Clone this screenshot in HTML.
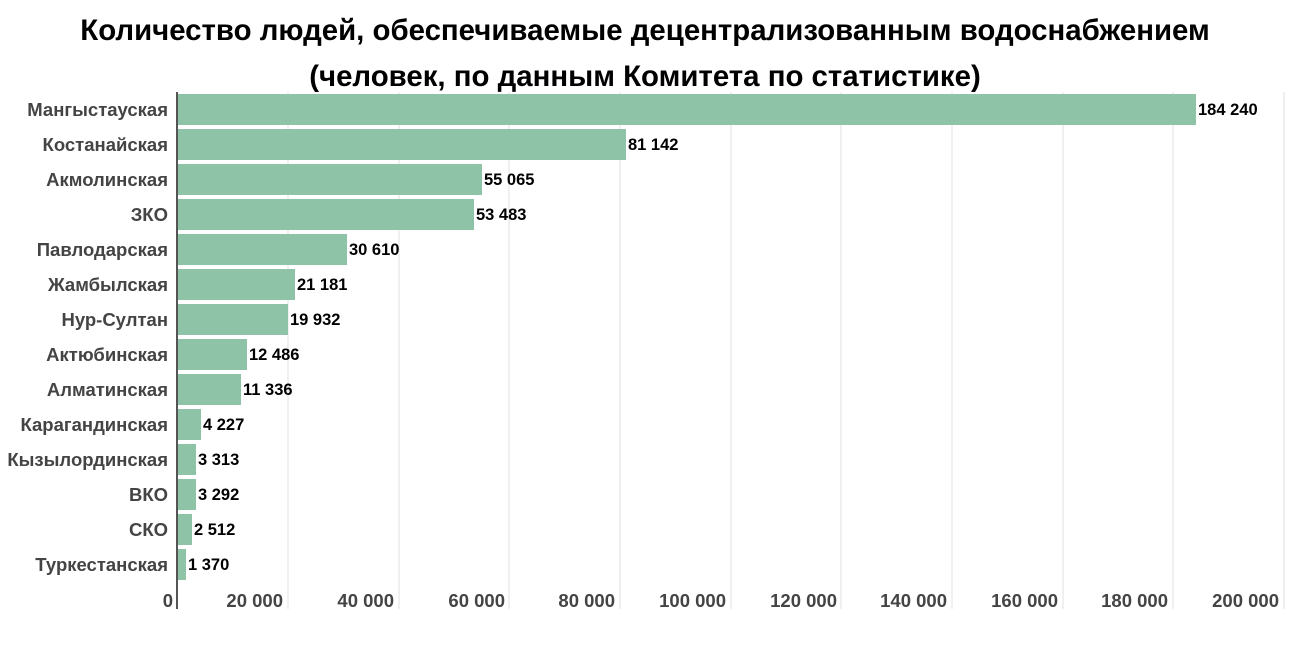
<!DOCTYPE html>
<html><head><meta charset="utf-8"><style>
body{margin:0;background:#fff;width:1290px;height:640px;overflow:hidden;font-family:"Liberation Sans",sans-serif;}
</style></head><body>
<svg width="1290" height="640" xmlns="http://www.w3.org/2000/svg" font-family="Liberation Sans, sans-serif">
<text x="645" y="40" text-anchor="middle" font-size="29.4" font-weight="bold" fill="#000">Количество людей, обеспечиваемые децентрализованным водоснабжением</text>
<text x="645" y="86" text-anchor="middle" font-size="29.4" font-weight="bold" fill="#000">(человек, по данным Комитета по статистике)</text>
<g stroke="#e0e0e0" stroke-width="1">
<line x1="288" y1="92" x2="288" y2="609"/><line x1="399" y1="92" x2="399" y2="609"/><line x1="509" y1="92" x2="509" y2="609"/><line x1="620" y1="92" x2="620" y2="609"/><line x1="731" y1="92" x2="731" y2="609"/><line x1="841" y1="92" x2="841" y2="609"/><line x1="952" y1="92" x2="952" y2="609"/><line x1="1063" y1="92" x2="1063" y2="609"/><line x1="1173" y1="92" x2="1173" y2="609"/><line x1="1284" y1="92" x2="1284" y2="609"/>
</g>
<g fill="#8fc3a7">
<rect x="178" y="94" width="1018" height="31"/>
<rect x="178" y="129" width="448" height="31"/>
<rect x="178" y="164" width="304" height="31"/>
<rect x="178" y="199" width="296" height="31"/>
<rect x="178" y="234" width="169" height="31"/>
<rect x="178" y="269" width="117" height="31"/>
<rect x="178" y="304" width="110" height="31"/>
<rect x="178" y="339" width="69" height="31"/>
<rect x="178" y="374" width="63" height="31"/>
<rect x="178" y="409" width="23" height="31"/>
<rect x="178" y="444" width="18" height="31"/>
<rect x="178" y="479" width="18" height="31"/>
<rect x="178" y="514" width="14" height="31"/>
<rect x="178" y="549" width="8" height="31"/>
</g>
<line x1="177" y1="92" x2="177" y2="609" stroke="#555" stroke-width="2"/>
<g font-size="18.5" font-weight="bold" fill="#444" text-anchor="end">
<text x="168" y="116">Мангыстауская</text>
<text x="168" y="151">Костанайская</text>
<text x="168" y="186">Акмолинская</text>
<text x="168" y="221">ЗКО</text>
<text x="168" y="256">Павлодарская</text>
<text x="168" y="291">Жамбылская</text>
<text x="168" y="326">Нур-Султан</text>
<text x="168" y="361">Актюбинская</text>
<text x="168" y="396">Алматинская</text>
<text x="168" y="431">Карагандинская</text>
<text x="168" y="466">Кызылординская</text>
<text x="168" y="501">ВКО</text>
<text x="168" y="536">СКО</text>
<text x="168" y="571">Туркестанская</text>
</g>
<g font-size="16.5" font-weight="bold" fill="#000">
<text x="1198" y="115">184 240</text>
<text x="628" y="150">81 142</text>
<text x="484" y="185">55 065</text>
<text x="476" y="220">53 483</text>
<text x="349" y="255">30 610</text>
<text x="297" y="290">21 181</text>
<text x="290" y="325">19 932</text>
<text x="249" y="360">12 486</text>
<text x="243" y="395">11 336</text>
<text x="203" y="430">4 227</text>
<text x="198" y="465">3 313</text>
<text x="198" y="500">3 292</text>
<text x="194" y="535">2 512</text>
<text x="188" y="570">1 370</text>
</g>
<g font-size="18.5" font-weight="bold" fill="#444" text-anchor="end">
<text x="173" y="607">0</text>
<text x="283" y="607">20 000</text>
<text x="394" y="607">40 000</text>
<text x="505" y="607">60 000</text>
<text x="615" y="607">80 000</text>
<text x="726" y="607">100 000</text>
<text x="837" y="607">120 000</text>
<text x="947" y="607">140 000</text>
<text x="1058" y="607">160 000</text>
<text x="1168" y="607">180 000</text>
<text x="1279" y="607">200 000</text>
</g>
</svg>
</body></html>
